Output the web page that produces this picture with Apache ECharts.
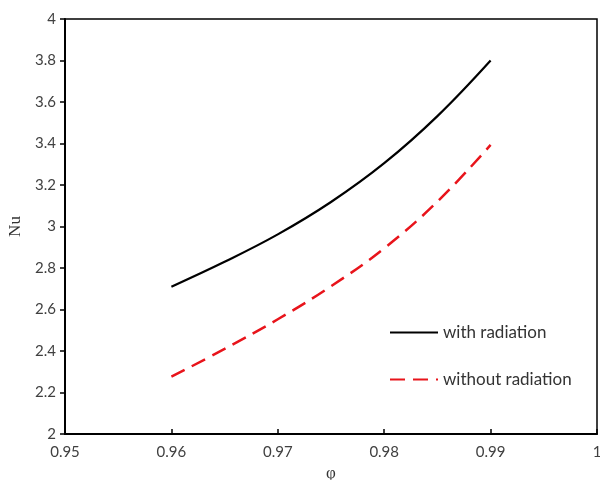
<!DOCTYPE html>
<html>
<head>
<meta charset="utf-8">
<script src="https://cdn.jsdelivr.net/npm/echarts@6/dist/echarts.min.js"></script>
<style>
  html, body { margin: 0; padding: 0; background: #fff; }
  #chart { width: 600px; height: 480px; }
</style>
</head>
<body>
<div id="chart"></div>
<script>
// values
const phi = [0.96, 0.965, 0.97, 0.975, 0.98, 0.985, 0.99];
const withRadiation = [2.71, 2.83, 2.962, 3.118, 3.305, 3.532, 3.8];
const withoutRadiation = [2.276, 2.41, 2.553, 2.712, 2.895, 3.12, 3.393];

const xTicks = [0.95, 0.96, 0.97, 0.98, 0.99, 1];
const yTicks = [2, 2.2, 2.4, 2.6, 2.8, 3, 3.2, 3.4, 3.6, 3.8, 4];

const pairs = (xs, ys) => xs.map((x, i) => [x, ys[i]]);

const labelFont = { fontFamily: 'Lato', fontSize: 15, color: '#404040' };

const chart = echarts.init(document.getElementById('chart'));
chart.setOption({
  animation: false,
  grid: {
    left: 65, right: 3, top: 19, bottom: 46,
    outerBoundsMode: 'none',
    containLabel: false,
    show: true, borderColor: '#000', borderWidth: 1.5
  },
  legend: {
    orient: 'vertical',
    left: 384, top: 319,
    itemWidth: 48, itemHeight: 14, itemGap: 30,
    itemStyle: { opacity: 0 },
    textStyle: Object.assign({}, labelFont, { fontSize: 17, color: '#333' }),
    data: ['with radiation', 'without radiation']
  },
  xAxis: {
    type: 'value',
    min: 0.95, max: 1, interval: 0.01,
    name: 'φ', nameLocation: 'middle', nameGap: 30,
    nameTextStyle: { fontFamily: 'Liberation Serif', fontSize: 17, color: '#333' },
    axisLine: { lineStyle: { color: '#000', width: 2 } },
    axisTick: { inside: true, length: 5, lineStyle: { color: '#000', width: 1.5 } },
    axisLabel: Object.assign({ margin: 11, formatter: v => xTicks.find(t => Math.abs(t - v) < 1e-9) + '' }, labelFont),
    splitLine: { show: false }
  },
  yAxis: {
    type: 'value',
    min: 2, max: 4, interval: 0.2,
    name: 'Nu', nameLocation: 'middle', nameGap: 35, nameRotate: 90,
    nameTextStyle: { fontFamily: 'Liberation Serif', fontSize: 17, color: '#333' },
    axisLine: { show: true, lineStyle: { color: '#000', width: 2 } },
    axisTick: { show: true, length: 5, lineStyle: { color: '#000', width: 1.5 } },
    axisLabel: Object.assign({ margin: 9, formatter: v => yTicks.find(t => Math.abs(t - v) < 1e-9) + '' }, labelFont),
    splitLine: { show: false }
  },
  series: [
    {
      name: 'with radiation',
      type: 'line',
      smooth: 0.4,
      symbol: 'none',
      data: pairs(phi, withRadiation),
      lineStyle: { color: '#000', width: 2.2 },
      itemStyle: { color: '#000' }
    },
    {
      name: 'without radiation',
      type: 'line',
      smooth: 0.4,
      symbol: 'none',
      data: pairs(phi, withoutRadiation),
      lineStyle: { color: '#e8141b', width: 2.5, type: [15, 8] },
      itemStyle: { color: '#e8141b' }
    }
  ]
});
</script>
</body>
</html>
